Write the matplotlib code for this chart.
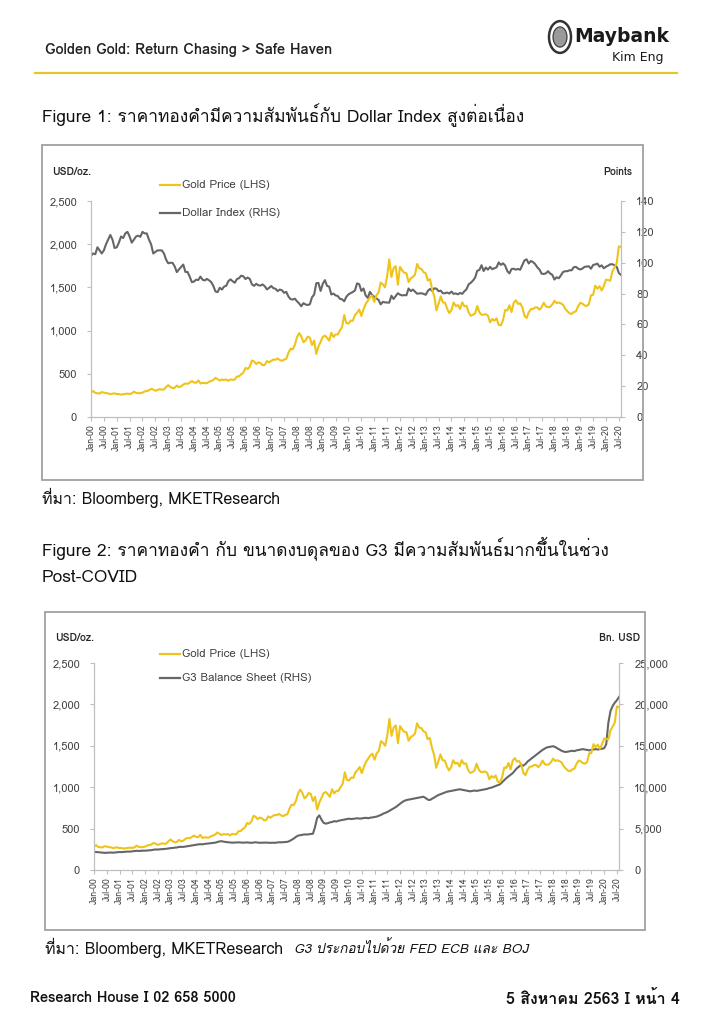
# Gold vs Dollar Index / G3 balance sheet - Maybank Kim Eng page

import numpy as np
import pandas as pd
from matplotlib import pyplot as plt
from matplotlib import font_manager
from matplotlib.lines import Line2D
from matplotlib.patches import Rectangle, Circle

# Data (monthly, Jan-00 .. Aug-20)

gold_price = [
    284, 300, 278, 275, 272, 288, 282, 277, 273, 264, 270, 274,
    265, 266, 258, 264, 267, 270, 266, 273, 293, 279, 275, 277,
    282, 296, 301, 308, 326, 318, 304, 312, 323, 316, 319, 347,
    368, 348, 334, 338, 364, 346, 354, 375, 388, 384, 398, 416,
    400, 396, 424, 388, 395, 392, 391, 408, 416, 428, 453, 438,
    422, 434, 428, 435, 418, 436, 430, 433, 469, 470, 495, 513,
    568, 556, 582, 654, 643, 613, 633, 624, 599, 604, 648, 632,
    650, 665, 662, 678, 659, 650, 665, 673, 743, 789, 783, 834,
    923, 971, 933, 865, 886, 930, 918, 833, 884, 730, 815, 869,
    928, 942, 916, 883, 975, 926, 955, 955, 1001, 1040, 1180, 1087,
    1081, 1116, 1113, 1180, 1207, 1244, 1169, 1248, 1307, 1346, 1384, 1405,
    1332, 1409, 1439, 1556, 1536, 1500, 1628, 1825, 1620, 1722, 1746, 1531,
    1738, 1697, 1669, 1664, 1561, 1604, 1622, 1648, 1772, 1720, 1714, 1675,
    1664, 1579, 1595, 1476, 1393, 1234, 1312, 1396, 1326, 1323, 1253, 1202,
    1240, 1326, 1284, 1296, 1250, 1327, 1282, 1287, 1210, 1172, 1183, 1199,
    1284, 1213, 1183, 1184, 1191, 1172, 1095, 1135, 1115, 1142, 1065, 1061,
    1118, 1238, 1233, 1293, 1215, 1322, 1351, 1309, 1316, 1273, 1173, 1146,
    1211, 1249, 1249, 1268, 1269, 1242, 1269, 1322, 1280, 1271, 1275, 1303,
    1345, 1318, 1325, 1315, 1299, 1253, 1224, 1201, 1192, 1215, 1222, 1282,
    1321, 1313, 1292, 1284, 1305, 1409, 1414, 1520, 1485, 1513, 1464, 1517,
    1589, 1585, 1577, 1687, 1730, 1781, 1975, 1968,
]

dollar_index = [
    104.5, 106.0, 105.5, 110.0, 108.0, 106.0, 108.0, 112.0, 115.0, 118.0, 115.0, 109.5,
    110.0, 113.0, 117.0, 116.0, 119.0, 120.0, 117.0, 113.0, 115.0, 117.0, 117.5, 116.8,
    120.0, 119.0, 119.0, 115.0, 112.0, 106.0, 107.0, 108.0, 108.0, 108.0, 106.0, 102.0,
    99.6, 100.0, 99.9, 97.6, 93.9, 95.7, 97.3, 98.8, 94.0, 94.0, 91.0, 87.4,
    87.8, 89.0, 88.8, 91.0, 89.0, 88.5, 89.5, 88.6, 87.5, 85.0, 81.4, 80.9,
    83.8, 82.6, 84.5, 85.0, 88.0, 89.2, 88.0, 87.0, 89.4, 90.0, 91.6, 91.2,
    89.4, 90.4, 89.5, 86.0, 85.0, 86.3, 85.4, 85.2, 85.9, 84.7, 82.7, 83.7,
    84.9, 83.5, 83.1, 81.6, 82.6, 82.1, 80.5, 81.1, 78.1, 76.4, 76.1, 76.7,
    75.0, 73.6, 71.8, 73.8, 72.9, 72.6, 73.1, 77.6, 79.4, 86.7, 86.9, 81.7,
    86.3, 88.7, 85.0, 84.5, 79.4, 80.0, 78.8, 78.4, 76.6, 76.3, 75.0, 77.9,
    79.5, 80.3, 81.0, 82.0, 86.6, 86.1, 81.7, 83.3, 78.8, 77.2, 81.1, 79.0,
    77.9, 76.9, 75.9, 73.0, 74.6, 74.3, 74.2, 74.1, 78.6, 76.5, 78.3, 80.2,
    79.3, 78.8, 79.0, 78.9, 83.3, 81.6, 82.6, 81.2, 79.9, 80.1, 80.2, 79.8,
    79.2, 81.8, 83.0, 81.7, 83.4, 83.2, 81.5, 81.9, 80.2, 80.2, 80.7, 80.0,
    81.3, 79.8, 80.1, 79.5, 80.4, 79.8, 81.5, 82.8, 86.0, 87.0, 88.4, 90.3,
    94.8, 95.3, 98.4, 94.6, 96.9, 95.5, 97.3, 95.8, 96.4, 97.0, 100.2, 98.6,
    99.6, 98.2, 94.6, 93.1, 95.9, 96.1, 95.5, 96.0, 95.4, 98.5, 101.5, 102.2,
    99.5, 101.1, 100.4, 99.1, 97.0, 95.6, 92.9, 92.7, 93.1, 94.5, 93.0, 92.1,
    89.1, 90.6, 89.9, 91.8, 94.0, 94.5, 94.5, 95.1, 95.1, 97.1, 97.3, 96.2,
    95.6, 96.2, 97.3, 97.5, 97.7, 96.1, 98.5, 98.9, 99.4, 97.4, 98.3, 96.4,
    97.4, 98.1, 99.0, 99.0, 98.3, 97.4, 93.3, 92.1,
]

g3_balance_sheet = [
    2200, 2180, 2150, 2120, 2090, 2070, 2080, 2100, 2110, 2090, 2120, 2150,
    2170, 2160, 2190, 2210, 2230, 2220, 2250, 2280, 2320, 2300, 2310, 2340,
    2330, 2350, 2380, 2400, 2450, 2480, 2470, 2500, 2520, 2540, 2560, 2600,
    2640, 2660, 2700, 2720, 2780, 2800, 2790, 2830, 2880, 2900, 2950, 3000,
    3050, 3080, 3120, 3100, 3150, 3180, 3200, 3230, 3260, 3300, 3380, 3450,
    3480, 3420, 3380, 3350, 3320, 3300, 3310, 3330, 3340, 3320, 3300, 3310,
    3330, 3300, 3280, 3320, 3350, 3310, 3290, 3300, 3320, 3310, 3290, 3280,
    3300, 3280, 3320, 3350, 3340, 3360, 3380, 3400, 3500, 3650, 3800, 4000,
    4150, 4200, 4250, 4300, 4280, 4320, 4350, 4380, 5200, 6300, 6600, 6100,
    5700, 5600, 5650, 5750, 5800, 5900, 5850, 5950, 6000, 6050, 6100, 6150,
    6200, 6150, 6180, 6220, 6250, 6200, 6230, 6280, 6300, 6250, 6320, 6350,
    6400, 6450, 6550, 6650, 6800, 6900, 7000, 7150, 7300, 7450, 7600, 7800,
    8000, 8200, 8350, 8450, 8500, 8550, 8600, 8650, 8700, 8750, 8800, 8850,
    8700, 8500, 8450, 8600, 8750, 8900, 9050, 9150, 9250, 9350, 9450, 9500,
    9550, 9600, 9650, 9700, 9750, 9700, 9650, 9600, 9550, 9500, 9550, 9600,
    9550, 9600, 9650, 9700, 9750, 9800, 9900, 9950, 10050, 10150, 10250, 10350,
    10600, 10850, 11100, 11300, 11500, 11700, 12000, 12300, 12500, 12700, 12600, 12800,
    13100, 13300, 13500, 13700, 13900, 14100, 14300, 14500, 14650, 14800, 14850, 14900,
    14950, 14850, 14700, 14550, 14400, 14300, 14250, 14300, 14350, 14400, 14350, 14450,
    14500, 14550, 14600, 14550, 14500, 14450, 14500, 14550, 14600, 14550, 14600, 14650,
    14700, 15200, 17800, 19200, 19800, 20200, 20500, 20900,
]

months = pd.date_range('2000-01-01', periods=len(gold_price), freq='MS')
tick_pos = [i for i, m in enumerate(months) if m.month in (1, 7)]
tick_labels = [months[i].strftime('%b-%y') for i in tick_pos]

gold_ticks = [0, 500, 1000, 1500, 2000, 2500]
dxy_ticks = [0, 20, 40, 60, 80, 100, 120, 140]
g3_ticks = [0, 5000, 10000, 15000, 20000, 25000]

# Find a font that has Thai glyphs (fallback DejaVu Sans)

thai_font = None
try:
    from fontTools.ttLib import TTFont
    for f in font_manager.fontManager.ttflist:
        try:
            cmap = TTFont(f.fname, fontNumber=0, lazy=True).getBestCmap()
        except Exception:
            continue
        if cmap and 0x0E04 in cmap and 0x0E2A in cmap:
            thai_font = f.name
            break
except Exception:
    pass

fam = [thai_font, 'DejaVu Sans'] if thai_font else ['DejaVu Sans']
plt.rcParams['font.family'] = fam

GOLD = '#EEC41A'
GREY = '#666666'
AXC = '#BFBFBF'
TXT = '#404040'

W, H = 709, 1024
fig = plt.figure(figsize=(W / 100, H / 100), dpi=100)
fig.patch.set_facecolor('white')


def fx(px):
    return px / W


def fy(py):
    return 1 - py / H


# Header

fig.text(fx(45), fy(50), 'Golden Gold: Return Chasing > Safe Haven', fontsize=10.5,
         fontweight='bold', color='#222222', va='center', family=['DejaVu Sans Condensed'] + fam)
fig.add_artist(Line2D([fx(35), fx(677)], [fy(73), fy(73)], color='#E6C533', lw=1.6))
fig.add_artist(Circle((fx(560), fy(37)), 11 / W, transform=fig.transFigure,
                      facecolor='white', edgecolor='#333333', lw=1.8))
fig.add_artist(Circle((fx(560), fy(37)), 7 / W, transform=fig.transFigure,
                      facecolor='#9A9A9A', edgecolor='#333333', lw=0.8))
fig.text(fx(574), fy(37), 'Maybank', fontsize=13.5, fontweight='bold', color='#1A1A1A',
         va='center', family=['DejaVu Sans'])
fig.text(fx(612), fy(58), 'Kim Eng', fontsize=9, color='#1A1A1A', va='center',
         family=['DejaVu Sans Condensed', 'DejaVu Sans'])

# Titles

fig.text(fx(42), fy(115), 'Figure 1: ราคาทองคำมีความสัมพันธ์กับ Dollar Index สูงต่อเนื่อง',
         fontsize=12.5, color='#111111', va='center')
fig.text(fx(42), fy(548), 'Figure 2: ราคาทองคำ กับ ขนาดงบดุลของ G3 มีความสัมพันธ์มากขึ้นในช่วง',
         fontsize=12.5, color='#111111', va='center')
fig.text(fx(42), fy(578), 'Post-COVID', fontsize=12.5, color='#111111', va='center')

# Chart frames

fig.add_artist(Rectangle((fx(42), fy(480)), 601 / W, 335 / H, transform=fig.transFigure,
                         fill=False, edgecolor='#A0A0A0', lw=1.3))
fig.add_artist(Rectangle((fx(45), fy(930)), 600 / W, 318 / H, transform=fig.transFigure,
                         fill=False, edgecolor='#A0A0A0', lw=1.3))


def make_chart(x0, x1, ytop, ybot, right_vals, right_ticks, right_fmt):
    ax = fig.add_axes([fx(x0), fy(ybot), (x1 - x0) / W, (ybot - ytop) / H])
    x = np.arange(len(gold_price))
    ax.plot(x, gold_price, color=GOLD, lw=1.5, zorder=2)
    ax.set_xlim(0, len(gold_price) - 1)
    ax.set_ylim(0, 2500)
    ax.set_yticks(gold_ticks)
    ax.set_yticklabels([f'{v:,}' for v in gold_ticks])
    ax.set_xticks(tick_pos)
    ax.set_xticklabels(tick_labels, rotation=90)
    ax2 = ax.twinx()
    ax2.plot(x, right_vals, color=GREY, lw=1.5, zorder=1)
    ax2.set_ylim(right_ticks[0], right_ticks[-1])
    ax2.set_yticks(right_ticks)
    ax2.set_yticklabels([right_fmt(v) for v in right_ticks])
    ax.set_zorder(ax2.get_zorder() + 1)
    ax.patch.set_visible(False)
    for a in (ax, ax2):
        a.spines['top'].set_visible(False)
        for s in ('left', 'right', 'bottom'):
            a.spines[s].set_color(AXC)
        a.tick_params(colors=AXC, labelcolor=TXT, labelsize=8, length=3, width=0.8)
    ax.tick_params(axis='y', pad=7)
    ax2.tick_params(axis='y', pad=8)
    ax.tick_params(axis='x', labelsize=6.3, pad=2)
    return ax


make_chart(91, 621, 201, 417, dollar_index, dxy_ticks, lambda v: f'{v}')
make_chart(94, 619, 663, 870, g3_balance_sheet, g3_ticks, lambda v: f'{v:,}')

# Chart labels and legends

lab = dict(fontsize=7.5, fontweight='bold', color='#262626', va='center')
fig.text(fx(52), fy(172), 'USD/oz.', **lab)
fig.text(fx(632), fy(172), 'Points', ha='right', **lab)
fig.text(fx(55), fy(638), 'USD/oz.', **lab)
fig.text(fx(640), fy(638), 'Bn. USD', ha='right', **lab)


def legend_item(px, py, color, label):
    fig.add_artist(Line2D([fx(px), fx(px + 20)], [fy(py), fy(py)], color=color, lw=1.6))
    fig.text(fx(px + 22), fy(py), label, fontsize=8.3, color=TXT, va='center')


legend_item(160, 185, GOLD, 'Gold Price (LHS)')
legend_item(160, 213, GREY, 'Dollar Index (RHS)')
legend_item(160, 654, GOLD, 'Gold Price (LHS)')
legend_item(160, 678, GREY, 'G3 Balance Sheet (RHS)')

# Sources

fig.text(fx(42), fy(498), 'ที่มา: Bloomberg, MKETResearch', fontsize=11.5, color='#111111', va='center')
fig.text(fx(45), fy(948), 'ที่มา: Bloomberg, MKETResearch', fontsize=11.5, color='#111111', va='center')
fig.text(fx(294), fy(948), 'G3 ประกอบไปด้วย FED ECB และ BOJ', fontsize=9.8, style='italic',
         color='#111111', va='center')

# Footer

fig.text(fx(30), fy(998), 'Research House I 02 658 5000', fontsize=10.5, fontweight='bold',
         color='#111111', va='center')
fig.text(fx(680), fy(998), '5 สิงหาคม 2563 I หน้า 4', fontsize=11.5, fontweight='bold',
         color='#111111', va='center', ha='right')

plt.savefig('out.png', dpi=100)
